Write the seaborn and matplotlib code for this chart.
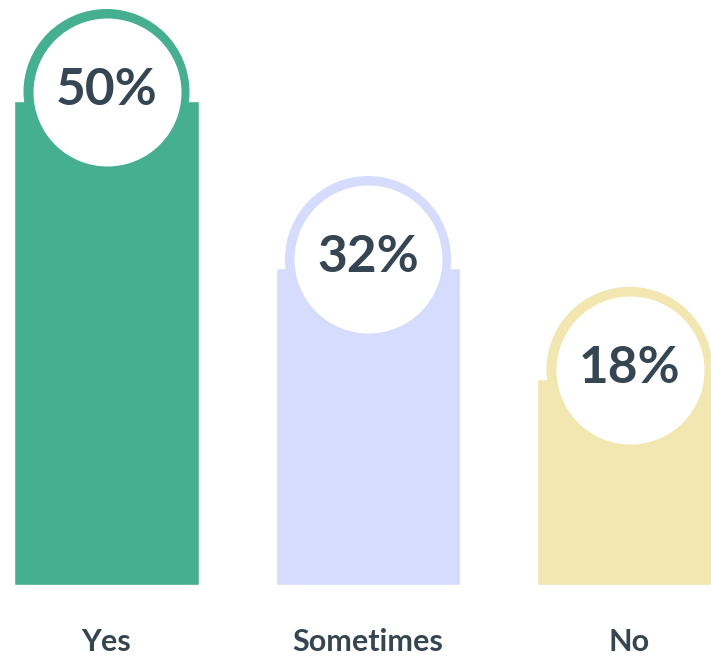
import matplotlib
matplotlib.use("Agg")
import matplotlib.pyplot as plt
import matplotlib.transforms as mtransforms
import seaborn as sns
import numpy as np

# ---- data ----
categories = ["Yes", "Sometimes", "No"]
percents = [50, 32, 18]              # labels shown in circles
bar_heights = [50, 32.75, 21.3]      # drawn bar heights
colors = ["#45AF8F", "#D6DCFE", "#F2E6B1"]
text_color = "#354551"

sns.set_theme(style="white")
plt.rcParams["font.family"] = ["Lato", "DejaVu Sans"]

W, H, DPI = 7.11, 6.60, 100
fig = plt.figure(figsize=(W, H), dpi=DPI)
bottom_px = 75
ax = fig.add_axes([0, bottom_px / 660, 1, 1 - bottom_px / 660])

sns.barplot(x=categories, y=bar_heights, hue=categories, palette=colors,
            legend=False, width=0.704, saturation=1, ax=ax)

px_per_unit = 484 / 50.0
ax.set_ylim(0, 585 / px_per_unit)
spacing = 261.5
ax.set_xlim(-106.5 / spacing, (711 - 106.5) / spacing)

xs = np.arange(len(categories))
circ_off = mtransforms.ScaledTranslation(0, 9 / DPI, fig.dpi_scale_trans)
trans = ax.transData + circ_off
d_out = 166 * 72 / DPI
d_in = 148 * 72 / DPI
ax.scatter(xs, bar_heights, s=d_out ** 2, c=colors, linewidths=0,
           transform=trans, zorder=3, clip_on=False)
ax.scatter(xs, bar_heights, s=d_in ** 2, c="white", linewidths=0,
           transform=trans, zorder=4, clip_on=False)

txt_off = mtransforms.ScaledTranslation(0, -4 / DPI, fig.dpi_scale_trans)
for x, h, p in zip(xs, bar_heights, percents):
    ax.text(x, h, f"{p}%", transform=ax.transData + txt_off,
            ha="center", va="baseline", fontsize=37, fontweight="bold",
            color=text_color, zorder=5)

ax.set_xticks(xs)
ax.set_xticklabels(categories, fontsize=22, fontweight="bold", color=text_color)
ax.tick_params(axis="x", length=0, pad=31)
ax.set_yticks([])
ax.set_ylabel("")
ax.set_xlabel("")
sns.despine(ax=ax, left=True, bottom=True, top=True, right=True)

fig.savefig("out.png", dpi=DPI)
